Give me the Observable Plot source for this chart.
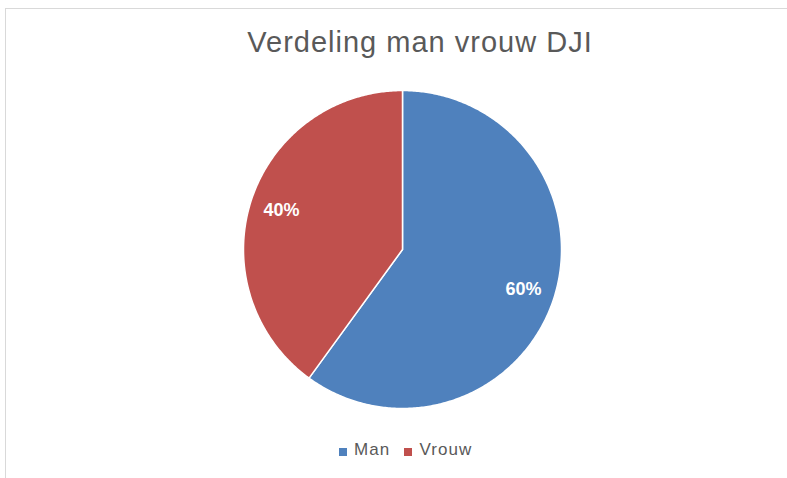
<!DOCTYPE html>
<html>
<head>
<meta charset="utf-8">
<script src="https://cdn.jsdelivr.net/npm/d3@7"></script>
<script src="https://cdn.jsdelivr.net/npm/@observablehq/plot@0.6"></script>
<style>
  html, body { margin: 0; padding: 0; background: #fff; width: 787px; height: 478px; overflow: hidden; }
  #frame { position: absolute; left: 5px; top: 8px; width: 900px; height: 600px; border-left: 1px solid #d9d9d9; border-top: 1px solid #d9d9d9; }
  #title { position: absolute; left: 0; width: 840px; top: 26px; text-align: center; font-family: "Liberation Sans", Arial, sans-serif; font-size: 29px; letter-spacing: 1px; color: #595959; white-space: nowrap; }
  #chart { position: absolute; left: 0; top: 0; }
  #legend { position: absolute; top: 440px; left: 339px; font-family: "Liberation Sans", Arial, sans-serif; font-size: 17px; letter-spacing: 1.1px; color: #595959; white-space: nowrap; display: flex; align-items: baseline; }
  .item { display: inline-flex; align-items: center; margin-right: 14px; }
  .sw { display: inline-block; width: 8px; height: 8px; margin-right: 7px; margin-top: 3px; }
</style>
</head>
<body>
<div id="frame"></div>
<div id="title">Verdeling man vrouw DJI</div>
<div id="chart"></div>
<div id="legend"></div>
<script>
const categories = ["Man", "Vrouw"];
const values = [60, 40];
const labels = ["60%", "40%"];
const colors = ["#4F81BD", "#C0504D"];

// slice geometry from d3.pie (angles clockwise from top)
const arcs = d3.pie().sort(null)(values);
const outline = [];
arcs.forEach((a, i) => {
  const n = Math.max(2, Math.ceil((a.endAngle - a.startAngle) / 0.01));
  outline.push({cat: categories[i], x: 0, y: 0});
  for (let k = 0; k <= n; k++) {
    const t = a.startAngle + (a.endAngle - a.startAngle) * k / n;
    outline.push({cat: categories[i], x: Math.sin(t), y: Math.cos(t)});
  }
  outline.push({cat: categories[i], x: 0, y: 0});
});
const labelData = arcs.map((a, i) => {
  const m = (a.startAngle + a.endAngle) / 2;
  return {cat: categories[i], label: labels[i], x: 0.8 * Math.sin(m), y: 0.8 * Math.cos(m)};
});

const plot = Plot.plot({
  width: 787,
  height: 478,
  marginLeft: 243,
  marginRight: 226,
  marginTop: 90,
  marginBottom: 70,
  x: {domain: [-1, 1], axis: null},
  y: {domain: [-1, 1], axis: null},
  color: {domain: categories, range: colors},
  style: {background: "transparent", overflow: "visible"},
  marks: [
    Plot.line(outline, {x: "x", y: "y", z: "cat", fill: "cat", stroke: "white", strokeWidth: 1.5, strokeLinejoin: "round", curve: "linear"}),
    Plot.text(labelData, {x: "x", y: "y", text: "label", fill: "white", fontSize: 18, fontWeight: "bold", fontFamily: "Liberation Sans, Arial, sans-serif"})
  ]
});
document.getElementById("chart").appendChild(plot);

const legend = document.getElementById("legend");
categories.forEach((c, i) => {
  const item = document.createElement("span");
  item.className = "item";
  item.innerHTML = `<span class="sw" style="background:${colors[i]}"></span><span>${c}</span>`;
  legend.appendChild(item);
});
</script>
</body>
</html>
